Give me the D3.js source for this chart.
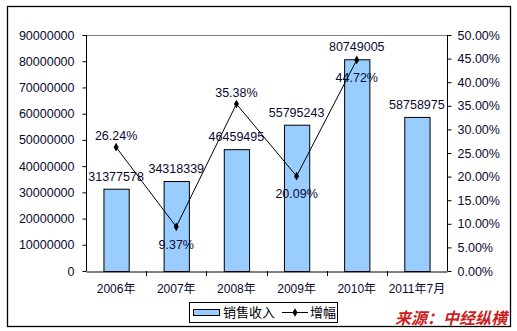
<!DOCTYPE html>
<html><head><meta charset="utf-8">
<script src="https://cdn.jsdelivr.net/npm/d3@7/dist/d3.min.js"></script>
<style>body{margin:0;background:#fff}svg{display:block}text{font-family:"Liberation Sans",Arial,"Noto Sans CJK SC",sans-serif}</style>
</head><body><div id="c"></div>
<script>
const categories = ["2006年","2007年","2008年","2009年","2010年","2011年7月"];
const sales = [31377578,34318339,46459495,55795243,80749005,58758975];
const growth = [26.24,9.37,35.38,20.09,44.72,null];
const leftTicks = [0,10000000,20000000,30000000,40000000,50000000,60000000,70000000,80000000,90000000];
const rightTicks = [0,5,10,15,20,25,30,35,40,45,50];
const legendLabels = ["销售收入","增幅"];
const sourceText = "来源：中经纵横";

const W=517,H=331;
const m={l:86,r:447,t:35,b:271};
const txt="#0a0a30";
const svg=d3.select("#c").append("svg").attr("width",W).attr("height",H);
svg.append("rect").attr("x",7.5).attr("y",6.5).attr("width",503).attr("height",320).attr("fill","#fff").attr("stroke","#000").attr("stroke-width",1.3);

const x=d3.scaleBand().domain(categories).range([m.l,m.r]).padding(0);
const y=d3.scaleLinear().domain([0,90000000]).range([m.b,m.t]);
const y2=d3.scaleLinear().domain([0,50]).range([m.b,m.t]);

// top gray border of plot
svg.append("line").attr("x1",m.l).attr("x2",m.r).attr("y1",m.t+0.5).attr("y2",m.t+0.5).attr("stroke","#808080");

// bars
const bw=x.bandwidth()*0.42;
svg.selectAll("rect.bar").data(sales).enter().append("rect")
  .attr("x",(d,i)=>x(categories[i])+x.bandwidth()/2-bw/2+0.5)
  .attr("y",d=>y(d)+0.5).attr("width",bw).attr("height",d=>m.b-y(d))
  .attr("fill","#99CCFF").attr("stroke","#000").attr("stroke-width",1);

// axes
const fs="12.5px";
const la=svg.append("g").attr("transform",`translate(${m.l+0.5},0)`)
  .call(d3.axisLeft(y).tickValues(leftTicks).tickFormat(d3.format("d")).tickSize(4).tickPadding(8));
const ra=svg.append("g").attr("transform",`translate(${m.r+0.5},0)`)
  .call(d3.axisRight(y2).tickValues(rightTicks).tickFormat(d=>d.toFixed(2)+"%").tickSize(4).tickPadding(6));
const ba=svg.append("g").attr("transform",`translate(0,${m.b+0.5})`)
  .call(d3.axisBottom(x).tickSize(0).tickPadding(13));
// boundary ticks on bottom axis
svg.selectAll("line.bt").data(categories.slice(1)).enter().append("line")
  .attr("x1",d=>Math.round(x(d))+0.5).attr("x2",d=>Math.round(x(d))+0.5)
  .attr("y1",m.b).attr("y2",m.b+5).attr("stroke","#000");
[la,ra,ba].forEach(g=>{
  g.select(".domain").attr("stroke","#000");
  g.selectAll(".tick line").attr("stroke","#000");
  g.selectAll("text").attr("fill",txt).style("font-size",fs).style("font-family",'"Liberation Sans",Arial,"Noto Sans CJK SC",sans-serif');
});
ba.selectAll("text").style("font-size","12px");
la.select(".domain").attr("d",`M0,${m.t}V${m.b}`);
ra.select(".domain").attr("d",`M0,${m.t}V${m.b}`);

// value labels
svg.selectAll("text.vl").data(sales).enter().append("text")
  .attr("x",(d,i)=>x(categories[i])+x.bandwidth()/2).attr("y",d=>y(d)-8)
  .attr("text-anchor","middle").attr("fill",txt).style("font-size",fs).text(d=>d);

// line
const pts=growth.map((g,i)=>({g,i})).filter(d=>d.g!==null);
const cx=d=>x(categories[d.i])+x.bandwidth()/2;
svg.append("path").datum(pts).attr("fill","none").attr("stroke","#000").attr("stroke-width",1)
  .attr("d",d3.line().x(cx).y(d=>y2(d.g)));
svg.selectAll("path.mk").data(pts).enter().append("path")
  .attr("transform",d=>`translate(${cx(d)},${y2(d.g)})`)
  .attr("d",d3.symbol(d3.symbolDiamond,22)).attr("fill","#000");
// percent labels: above when local peak, below otherwise
const below=[false,true,false,true,true,false];
svg.selectAll("text.pl").data(pts).enter().append("text")
  .attr("x",cx).attr("y",d=>below[d.i]?y2(d.g)+22:y2(d.g)-7)
  .attr("text-anchor","middle").attr("fill",txt).style("font-size",fs).text(d=>d.g.toFixed(2)+"%");

// legend
const lg=svg.append("g");
lg.append("rect").attr("x",189.5).attr("y",302.5).attr("width",148).attr("height",20).attr("fill","#fff").attr("stroke","#000");
lg.append("rect").attr("x",193.5).attr("y",309.5).attr("width",26).attr("height",6).attr("fill","#99CCFF").attr("stroke","#000");
lg.append("text").attr("x",223).attr("y",317).attr("fill","#000").style("font-size","13px").style("font-family",'"Noto Sans CJK SC",sans-serif').text(legendLabels[0]);
lg.append("line").attr("x1",282).attr("x2",308).attr("y1",312.5).attr("y2",312.5).attr("stroke","#000");
lg.append("path").attr("transform","translate(295,312.5)").attr("d",d3.symbol(d3.symbolDiamond,22)).attr("fill","#000");
lg.append("text").attr("x",310).attr("y",317).attr("fill","#000").style("font-size","13px").style("font-family",'"Noto Sans CJK SC",sans-serif').text(legendLabels[1]);

// source
svg.append("text").attr("x",395).attr("y",324).attr("fill","#cc1f1f")
  .style("font-size","16px").style("font-weight","bold").style("font-style","italic")
  .style("font-family",'"Noto Sans CJK SC",sans-serif').text(sourceText);
</script></body></html>
